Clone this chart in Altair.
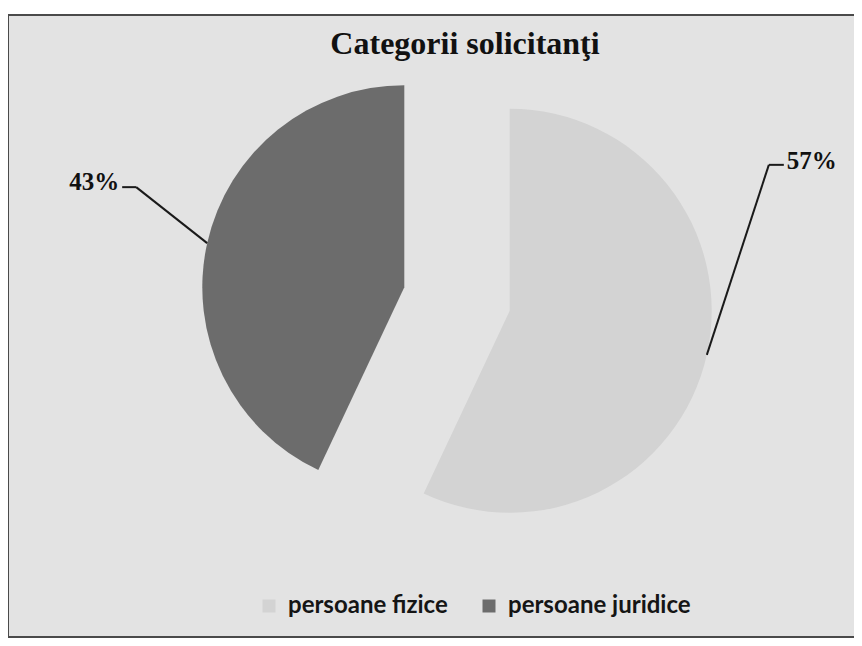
import altair as alt
import pandas as pd

# ---- data ----
categories = ["persoane fizice", "persoane juridice"]
shares = [57, 43]
label_texts = ["57%", "43%"]
slice_colors = ["#d3d3d3", "#6c6c6c"]
title_text = "Categorii solicitanţi"

# ---- layout (pixels, view coordinates) ----
CX, CY = 449, 285       # centre of the un-exploded pie
R = 202                 # pie radius
EXPLODE = 54            # explosion distance
leader_layout = {       # leader-line geometry per slice (dragged labels)
    "persoane fizice": dict(ldx=62, ldy=-190, hdx=15, side="right"),
    "persoane juridice": dict(ldx=-71, ldy=-56, hdx=-14, side="left"),
}

df = pd.DataFrame({"category": categories, "share": shares, "label": label_texts})
df["order"] = range(len(df))
for key in ["ldx", "ldy", "hdx", "side"]:
    df[key] = df["category"].map(lambda c: leader_layout[c][key])

base = (
    alt.Chart(df)
    .transform_window(cum="sum(share)", sort=[alt.SortField("order")], frame=[None, 0])
    .transform_calculate(start="datum.cum - datum.share")
    .transform_calculate(end="datum.cum")
    .transform_calculate(mid="(datum.cum - datum.share / 2) / 100 * 2 * PI")
    .transform_calculate(cx=f"{CX} + {EXPLODE} * sin(datum.mid)")
    .transform_calculate(cy=f"{CY} - {EXPLODE} * cos(datum.mid)")
    .transform_calculate(ex=f"datum.cx + {R} * sin(datum.mid)")
    .transform_calculate(ey=f"datum.cy - {R} * cos(datum.mid)")
    .transform_calculate(bx="datum.ex + datum.ldx")
    .transform_calculate(by="datum.ey + datum.ldy")
    .transform_calculate(tx="datum.bx + datum.hdx")
)

arcs = base.mark_arc(outerRadius=R, strokeWidth=0).encode(
    x=alt.X("cx:Q", scale=None, axis=None),
    y=alt.Y("cy:Q", scale=None, axis=None),
    theta=alt.Theta("start:Q", scale=alt.Scale(domain=[0, 100]), stack=False),
    theta2="end:Q",
    color=alt.Color(
        "category:N",
        scale=alt.Scale(domain=categories, range=slice_colors),
        legend=alt.Legend(
            title=None,
            orient="none",
            legendX=249,
            legendY=580,
            direction="horizontal",
            symbolType="square",
            symbolSize=169,
            symbolStrokeWidth=0,
            symbolOpacity=1,
            labelFont="Lato",
            labelFontSize=24,
            labelFontWeight="bold",
            labelColor="#151515",
            labelOffset=7,
            labelLimit=400,
            columnPadding=29,
        ),
    ),
)

leader1 = base.mark_rule(color="#1a1a1a", strokeWidth=2).encode(
    x=alt.X("ex:Q", scale=None), y=alt.Y("ey:Q", scale=None), x2="bx:Q", y2="by:Q"
)
leader2 = base.mark_rule(color="#1a1a1a", strokeWidth=2).encode(
    x=alt.X("bx:Q", scale=None), y=alt.Y("by:Q", scale=None), x2="tx:Q", y2="by:Q"
)

text_style = dict(font="Liberation Serif", fontWeight="bold", fontSize=25, color="#111111", baseline="middle")
labels_right = base.transform_filter("datum.side == 'right'").mark_text(align="left", dx=3, dy=-4, **text_style).encode(
    x=alt.X("tx:Q", scale=None), y=alt.Y("by:Q", scale=None), text="label:N"
)
labels_left = base.transform_filter("datum.side == 'left'").mark_text(align="right", dx=-3, dy=-5, **text_style).encode(
    x=alt.X("tx:Q", scale=None), y=alt.Y("by:Q", scale=None), text="label:N"
)

frame_df = pd.DataFrame({"frame": [0]})
frame_style = dict(color="#4a4a4a", strokeWidth=2)
frame_left = alt.Chart(frame_df).mark_rule(**frame_style).encode(
    x=alt.value(0), x2=alt.value(0), y=alt.value(0), y2=alt.value(624)
)
frame_top = alt.Chart(frame_df).mark_rule(**frame_style).encode(
    x=alt.value(0), x2=alt.value(846), y=alt.value(1), y2=alt.value(1)
)
frame_bottom = alt.Chart(frame_df).mark_rule(**frame_style).encode(
    x=alt.value(0), x2=alt.value(846), y=alt.value(623), y2=alt.value(623)
)

chart = (
    alt.layer(arcs, leader1, leader2, labels_right, labels_left, frame_left, frame_top, frame_bottom)
    .properties(
        width=846,
        height=624,
        padding={"left": 0, "right": 0, "top": 6, "bottom": 0},
        autosize=alt.AutoSizeParams(type="none"),
        title=alt.TitleParams(
            text=title_text,
            font="Liberation Serif",
            fontWeight="bold",
            fontSize=32,
            color="#111111",
            anchor="middle",
            dx=34,
            dy=52,
        ),
    )
    .configure_view(fill="#e3e3e3", stroke=None)
)

chart.save("out.html", embed_options={"renderer": "svg", "actions": False})
